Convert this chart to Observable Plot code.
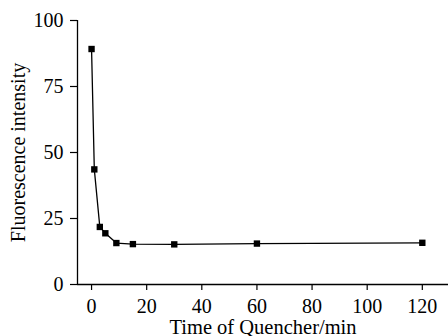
<!DOCTYPE html>
<html><head><meta charset="utf-8">
<script src="https://cdn.jsdelivr.net/npm/d3@7"></script>
<script src="https://cdn.jsdelivr.net/npm/@observablehq/plot@0.6"></script>
<style>body{margin:0;background:#fff}</style>
</head><body><div id="c"></div>
<script>
const times = [0, 1, 3, 5, 9, 15, 30, 60, 120];
const intensity = [89.2, 43.6, 21.8, 19.4, 15.7, 15.3, 15.2, 15.5, 15.8];
const xTicks = [0, 20, 40, 60, 80, 100, 120];
const yTicks = [0, 25, 50, 75, 100];
const data = times.map((t, i) => ({t, v: intensity[i]}));
const font = "Liberation Serif, Times New Roman, serif";
const chart = Plot.plot({
  width: 448, height: 336,
  marginLeft: 77, marginRight: 0, marginTop: 20, marginBottom: 52,
  style: {fontFamily: font, fontSize: "20px", color: "#000", background: "#fff"},
  x: {domain: [-5.1, 129.5]},
  y: {domain: [0, 100]},
  marks: [
    Plot.axisX({ticks: xTicks, tickSize: 6, tickPadding: 8, label: null, fontSize: 20, strokeWidth: 1.2}),
    Plot.axisY({ticks: yTicks, tickSize: 7, tickPadding: 7, label: null, fontSize: 20, strokeWidth: 1.2}),
    Plot.ruleY([0], {strokeWidth: 1.3}),
    Plot.ruleX([-5.1], {strokeWidth: 1.3}),
    Plot.line(data, {x: "t", y: "v", stroke: "#000", strokeWidth: 1.3}),
    Plot.dot(data, {x: "t", y: "v", symbol: "square", r: 3.6, fill: "#000", stroke: "none"}),
    Plot.text(["Time of Quencher/min"], {frameAnchor: "bottom", dy: 49, lineAnchor: "bottom", fontSize: 20.5}),
    Plot.text(["Fluorescence intensity"], {frameAnchor: "left", textAnchor: "middle", dx: -59, rotate: -90, fontSize: 20})
  ]
});
document.getElementById("c").appendChild(chart);
</script></body></html>
